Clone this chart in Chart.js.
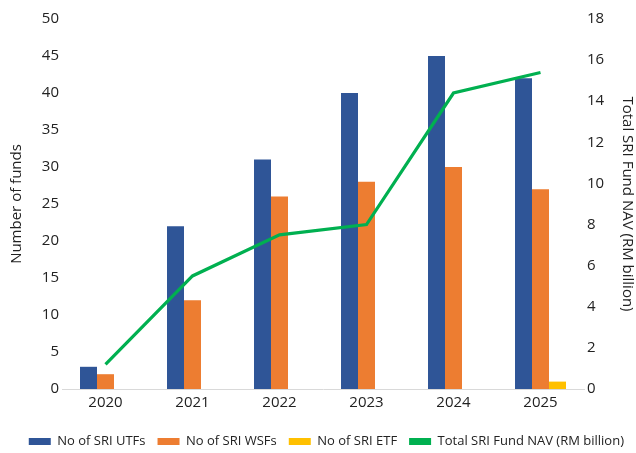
<!DOCTYPE html>
<html>
<head>
<meta charset="utf-8">
<script src="https://cdn.jsdelivr.net/npm/chart.js@4.4.1/dist/chart.umd.min.js"></script>
<style>
html,body{margin:0;padding:0;background:#fff;}
#wrap{width:636px;height:453px;position:relative;}
</style>
</head>
<body>
<div id="wrap"><canvas id="c"></canvas></div>
<script>
const years = ['2020','2021','2022','2023','2024','2025'];
const utfs = [3, 22, 31, 40, 45, 42];
const wsfs = [2, 12, 26, 28, 30, 27];
const etfs = [0, 0, 0, 0, 0, 1];
const nav = [1.2, 5.5, 7.5, 8.0, 14.4, 15.4];
const leftTicks = [0,5,10,15,20,25,30,35,40,45,50];
const rightTicks = [0,2,4,6,8,10,12,14,16,18];

const FONT = "'Open Sans', 'Noto Sans', sans-serif";
new Chart(document.getElementById('c'), {
  type: 'bar',
  data: {
    labels: years,
    datasets: [
      {type:'line', label:'Total SRI Fund NAV (RM billion)', data: nav, yAxisID:'y2',
       borderColor:'#00B050', backgroundColor:'#00B050', borderWidth:3.2, pointRadius:0, tension:0, order:0},
      {label:'No of SRI UTFs', data: utfs, backgroundColor:'#2F5597', yAxisID:'y', order:1},
      {label:'No of SRI WSFs', data: wsfs, backgroundColor:'#ED7D31', yAxisID:'y', order:1},
      {label:'No of SRI ETF', data: etfs, backgroundColor:'#FFC000', yAxisID:'y', order:1}
    ]
  },
  options: {
    responsive:true, maintainAspectRatio:false, animation:false,
    layout:{padding:{top:19, right:0, left:0, bottom:-5}},
    datasets:{bar:{categoryPercentage:0.586, barPercentage:1.0}},
    plugins:{
      tooltip:{enabled:false},
      legend:{
        position:'bottom', align:'end',
        labels:{
          font:{family:FONT, size:13}, color:'#222',
          boxWidth:22, boxHeight:7, padding:12,
          sort:(a,b)=>{const o=[1,2,3,0];return o.indexOf(a.datasetIndex)-o.indexOf(b.datasetIndex);},
          generateLabels:(chart)=>{
            const items = Chart.defaults.plugins.legend.labels.generateLabels(chart);
            items.forEach(it=>{ if(it.datasetIndex===0){ it.lineWidth=0; } });
            return items;
          }
        }
      }
    },
    scales:{
      x:{
        grid:{display:false, drawTicks:false, tickLength:0},
        border:{color:'#D9D9D9', width:1},
        ticks:{font:{family:FONT, size:15}, color:'#222', padding:5},
        afterFit:(s)=>{s.height = 34;}
      },
      y:{
        position:'left', min:0, max:50,
        afterBuildTicks:(s)=>{s.ticks = leftTicks.map(v=>({value:v}));},
        grid:{display:false, drawTicks:false}, border:{display:false},
        ticks:{font:{family:FONT, size:15}, color:'#222', padding:3},
        title:{display:true, text:'Number of funds', font:{family:FONT, size:15}, color:'#222', padding:{top:8,bottom:0}},
        afterFit:(s)=>{s.width = 62;}
      },
      y2:{
        position:'right', min:0, max:18,
        afterBuildTicks:(s)=>{s.ticks = rightTicks.map(v=>({value:v}));},
        grid:{display:false, drawTicks:false}, border:{display:false},
        ticks:{font:{family:FONT, size:15}, color:'#222', padding:3},
        title:{display:true, text:'Total SRI Fund NAV (RM billion)', font:{family:FONT, size:15}, color:'#222', padding:{top:0,bottom:0}},
        afterFit:(s)=>{s.width = 52;}
      }
    }
  }
});
</script>
</body>
</html>
